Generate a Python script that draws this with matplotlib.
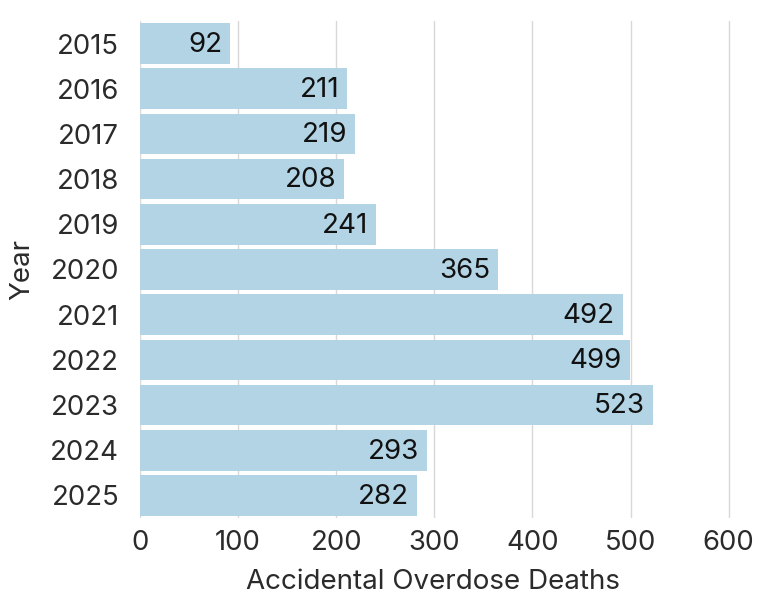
import matplotlib.pyplot as plt

years = ['2015', '2016', '2017', '2018', '2019', '2020', '2021', '2022', '2023', '2024', '2025']
deaths = [92, 211, 219, 208, 241, 365, 492, 499, 523, 293, 282]

plt.rcParams['font.family'] = ['Inter', 'DejaVu Sans']

fig = plt.figure(figsize=(7.68, 6.07), dpi=100)
ax = fig.add_axes([140 / 768, 1 - 518 / 607, 620 / 768, 497 / 607])

pos = list(range(len(years)))
ax.barh(pos, deaths, height=0.9, color='#b3d4e5', zorder=2)
for p, v in zip(pos, deaths):
    ax.text(v - 8, p + 0.03, str(v), ha='right', va='center', fontsize=20,
            color='#111111', zorder=3)

ax.set_yticks(pos)
ax.set_yticklabels(years)
ax.set_ylim(len(years) - 0.5, -0.5)
ax.set_xlim(0, 632)
ax.set_xticks([0, 100, 200, 300, 400, 500, 600])

ax.grid(axis='x', color='#d8d8d8', linewidth=1, zorder=0)
for s in ax.spines.values():
    s.set_visible(False)
ax.tick_params(axis='both', length=0, labelsize=19.8, labelcolor='#2b2b2b')
ax.tick_params(axis='y', pad=15)
ax.tick_params(axis='x', pad=9)

ax.set_xlabel('Accidental Overdose Deaths', fontsize=20, color='#2b2b2b',
              labelpad=9, x=0.473)
ax.set_ylabel('Year', fontsize=20, color='#2b2b2b', labelpad=11)

plt.savefig('out.png', dpi=100)
